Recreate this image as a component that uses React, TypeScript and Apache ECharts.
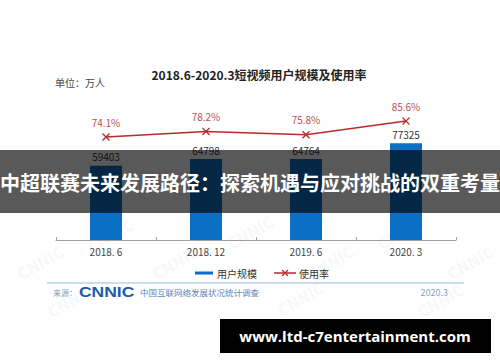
import React, { useEffect, useRef } from "react";
import * as echarts from "echarts";

const categories = ["2018. 6", "2018. 12", "2019. 6", "2020. 3"];
const userScale = [59403, 64798, 64764, 77325];
const usageRate = [74.1, 78.2, 75.8, 85.6];
const chartTitle = "2018.6-2020.3短视频用户规模及使用率";
const unitLabel = "单位：万人";
const legendNames = ["用户规模", "使用率"];
const bannerText = "中超联赛未来发展路径：探索机遇与应对挑战的双重考量";
const sourceLabel = "来源：";
const sourceLogo = "CNNIC";
const sourceDesc = "中国互联网络发展状况统计调查";
const sourceDate = "2020.3";
const urlText = "www.ltd-c7entertainment.com";

const FONT = "'Noto Sans CJK SC', 'Noto Sans', sans-serif";
const BAR_COLOR = "#0b6fc6";
const LINE_COLOR = "#b82a2e";
const X_PATH =
  "path://M0,1.2L1.2,0L5,3.8L8.8,0L10,1.2L6.2,5L10,8.8L8.8,10L5,6.2L1.2,10L0,8.8L3.8,5Z";

export default function App() {
  const ref = useRef<HTMLDivElement>(null);
  useEffect(() => {
    if (!ref.current) return;
    const chart = echarts.init(ref.current, undefined, { renderer: "svg" });
    const watermarks = [
      [40, 262], [110, 235], [175, 262], [250, 232], [330, 262], [400, 232], [470, 262],
      [70, 300], [300, 298], [440, 300],
    ].map(([x, y]) => ({
      type: "text",
      x,
      y,
      rotation: Math.PI / 6,
      z: 0,
      style: {
        text: "CNNIC",
        fill: "rgba(170,185,205,0.11)",
        font: `bold 16px ${FONT}`,
        textAlign: "center",
        textVerticalAlign: "middle",
      },
    }));
    chart.setOption({
      animation: false,
      backgroundColor: "#ffffff",
      textStyle: { fontFamily: FONT },
      title: {
        text: chartTitle,
        left: 254,
        textAlign: "center",
        top: 63,
        textStyle: { fontSize: 12, fontWeight: "bold", color: "#222", fontFamily: FONT },
      },
      grid: { left: 56, right: 44, top: 115, bottom: 122 },
      xAxis: {
        type: "category",
        data: categories,
        boundaryGap: true,
        axisLine: { lineStyle: { color: "#a0a0a0", width: 1 } },
        axisTick: { show: true, inside: true, length: 3, lineStyle: { color: "#a0a0a0" } },
        axisLabel: { color: "#444", fontSize: 10, margin: 6, fontFamily: FONT },
      },
      yAxis: [
        { type: "value", min: 0, max: 100000, show: false, splitLine: { show: false } },
        { type: "value", min: 0, max: 90, show: false, splitLine: { show: false } },
      ],
      series: [
        {
          name: legendNames[0],
          type: "bar",
          data: userScale,
          barWidth: 32,
          yAxisIndex: 0,
          itemStyle: { color: BAR_COLOR },
          label: { show: true, position: "top", distance: 4, fontSize: 10, color: "#333", fontFamily: FONT },
          z: 2,
        },
        {
          name: legendNames[1],
          type: "line",
          data: usageRate,
          yAxisIndex: 1,
          symbol: X_PATH,
          symbolSize: 8,
          lineStyle: { color: LINE_COLOR, width: 1.5 },
          itemStyle: { color: LINE_COLOR },
          label: {
            show: true,
            position: "top",
            distance: 6,
            fontSize: 10,
            color: "#c0504d",
            formatter: (p: any) => `${p.value}%`,
            fontFamily: FONT,
          },
          z: 3,
        },
      ],
      graphic: [
        ...watermarks,
        {
          type: "text",
          x: 55,
          y: 82,
          z: 10,
          style: { text: unitLabel, fill: "#444", font: `10px ${FONT}`, textVerticalAlign: "middle" },
        },
        // legend
        { type: "rect", z: 10, shape: { x: 195, y: 271.5, width: 18, height: 3 }, style: { fill: BAR_COLOR } },
        {
          type: "text",
          x: 217,
          y: 273,
          z: 10,
          style: { text: legendNames[0], fill: "#333", font: `10px ${FONT}`, textVerticalAlign: "middle" },
        },
        {
          type: "line",
          z: 10,
          shape: { x1: 274, y1: 273, x2: 296, y2: 273 },
          style: { stroke: LINE_COLOR, lineWidth: 1.5 },
        },
        {
          type: "polyline",
          z: 10,
          shape: { points: [[282, 270], [288, 276]] },
          style: { stroke: LINE_COLOR, lineWidth: 1.2, fill: "none" },
        },
        {
          type: "polyline",
          z: 10,
          shape: { points: [[288, 270], [282, 276]] },
          style: { stroke: LINE_COLOR, lineWidth: 1.2, fill: "none" },
        },
        {
          type: "text",
          x: 299,
          y: 273,
          z: 10,
          style: { text: legendNames[1], fill: "#333", font: `10px ${FONT}`, textVerticalAlign: "middle" },
        },
        // separator
        {
          type: "line",
          z: 10,
          shape: { x1: 47, y1: 283, x2: 464, y2: 283 },
          style: { stroke: "#b9d3ea", lineWidth: 1.5 },
        },
        {
          type: "text",
          x: 53,
          y: 292,
          z: 10,
          style: { text: sourceLabel, fill: "#7f9cc0", font: `8px ${FONT}`, textVerticalAlign: "middle" },
        },
        {
          type: "text",
          x: 79,
          y: 292,
          z: 10,
          scaleX: 1.25,
          style: {
            text: sourceLogo,
            fill: "#1b5ea6",
            font: `bold 14px 'Liberation Sans', sans-serif`,
            textVerticalAlign: "middle",
          },
        },
        {
          type: "text",
          x: 140,
          y: 292,
          z: 10,
          style: { text: sourceDesc, fill: "#5d86bd", font: `8.5px ${FONT}`, textVerticalAlign: "middle" },
        },
        {
          type: "text",
          x: 448,
          y: 292,
          z: 10,
          style: {
            text: sourceDate,
            fill: "#8aa2c0",
            font: `9px ${FONT}`,
            textAlign: "right",
            textVerticalAlign: "middle",
          },
        },
        // banner overlay
        {
          type: "rect",
          z: 50,
          shape: { x: 0, y: 150, width: 500, height: 63 },
          style: { fill: "rgba(0,0,0,0.65)" },
        },
        {
          type: "text",
          x: 250,
          y: 182,
          z: 51,
          style: {
            text: bannerText,
            fill: "#ffffff",
            font: `bold 20px ${FONT}`,
            textAlign: "center",
            textVerticalAlign: "middle",
          },
        },
        // url box
        {
          type: "rect",
          z: 50,
          shape: { x: 220, y: 319, width: 271, height: 34 },
          style: { fill: "#000000" },
        },
        {
          type: "text",
          x: 355,
          y: 336,
          z: 51,
          style: {
            text: urlText,
            fill: "#ffffff",
            font: `bold 15px 'Open Sans', sans-serif`,
            textAlign: "center",
            textVerticalAlign: "middle",
          },
        },
      ],
    });
    return () => chart.dispose();
  }, []);
  return <div ref={ref} style={{ width: 500, height: 362, position: "absolute", left: 0, top: 0 }} />;
}
